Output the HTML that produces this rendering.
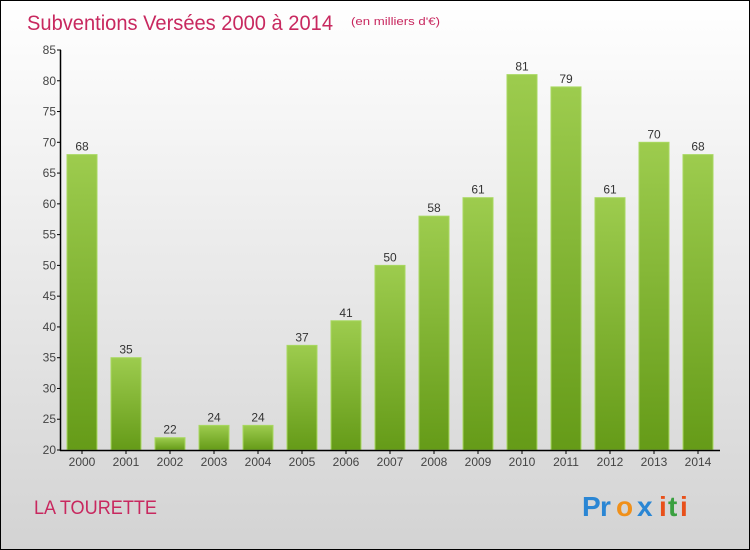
<!DOCTYPE html>
<html><head><meta charset="utf-8"><style>
body{margin:0;}
#wrap{width:750px;height:550px;position:relative;overflow:hidden;}
svg{display:block;font-family:"Liberation Sans",sans-serif;}
</style></head><body>
<div id="wrap">
<svg id="chart" width="750" height="550">
<defs>
<linearGradient id="bg" x1="0" y1="0" x2="0" y2="1"><stop offset="0" stop-color="#ffffff"/><stop offset="1" stop-color="#d3d3d3"/></linearGradient>
<linearGradient id="bar" x1="0" y1="0" x2="0" y2="1"><stop offset="0" stop-color="#9dcc4e"/><stop offset="1" stop-color="#659b18"/></linearGradient>
</defs>
<rect x="0.5" y="0.5" width="749" height="549" fill="url(#bg)" stroke="#000"/>
<text x="27" y="30" font-size="21" fill="#c8285f" textLength="306" lengthAdjust="spacingAndGlyphs">Subventions Versées 2000 à 2014</text>
<text x="351" y="25" font-size="11" fill="#c8285f" textLength="89" lengthAdjust="spacingAndGlyphs">(en milliers d'€)</text>
<text x="34" y="514" font-size="19" fill="#c8285f" textLength="123" lengthAdjust="spacingAndGlyphs">LA TOURETTE</text>
<g font-size="28" font-weight="bold">
<text x="582" y="516" fill="#2a86d4">P</text><text x="600" y="516" fill="#2a86d4">r</text><text x="616" y="516" fill="#f0901a">o</text><text x="637" y="516" fill="#2a86d4">x</text><text x="659" y="516" fill="#e8501a">i</text><text x="668" y="516" fill="#3aa040">t</text><text x="680" y="516" fill="#e8501a">i</text>
</g>
<g id="plot"></g>
</svg>
</div>
<script>
const categories=["2000","2001","2002","2003","2004","2005","2006","2007","2008","2009","2010","2011","2012","2013","2014"];
const values=[68,35,22,24,24,37,41,50,58,61,81,79,61,70,68];
const yTicks=[20,25,30,35,40,45,50,55,60,65,70,75,80,85];
const ns="http://www.w3.org/2000/svg";
const g=document.getElementById('plot');
const y0=450,yTop=50,vMin=20,vMax=85;
function y(v){return y0-(v-vMin)*(y0-yTop)/(vMax-vMin);}
function x(i){return 82+44*i;}
function mk(t,a,txt){const e=document.createElementNS(ns,t);for(const k in a)e.setAttribute(k,a[k]);if(txt!==undefined)e.textContent=txt;g.appendChild(e);return e;}
yTicks.forEach(t=>{
 const l=mk('line',{x1:57,x2:61,y1:y(t),y2:y(t),stroke:'#000'});
 
 
 const tx=mk('text',{x:56,y:y(t)+4,'text-anchor':'end','font-size':12,fill:'#444'},t);
 
 
});
categories.forEach((c,i)=>{
 const v=values[i];
 const r=mk('rect',{x:x(i)-15,y:y(v),width:30,height:y0-y(v),fill:'url(#bar)',stroke:'#a8d860','stroke-width':1});
 
 
 const vl=mk('text',{x:x(i),y:y(v)-4,'text-anchor':'middle','font-size':12,fill:'#333'},v);
 
 
 const tk=mk('line',{x1:x(i),x2:x(i),y1:y0,y2:y0+4,stroke:'#000'});
 
 
 const xl=mk('text',{x:x(i),y:466,'text-anchor':'middle','font-size':12,fill:'#444'},c);
 
 
});
const ya=mk('line',{x1:60.5,x2:60.5,y1:yTop,y2:y0+1,stroke:'#000','stroke-width':1.5});


const xa=mk('line',{x1:60,x2:720,y1:y0+0.5,y2:y0+0.5,stroke:'#000','stroke-width':1.5});


</script>
</body></html>
